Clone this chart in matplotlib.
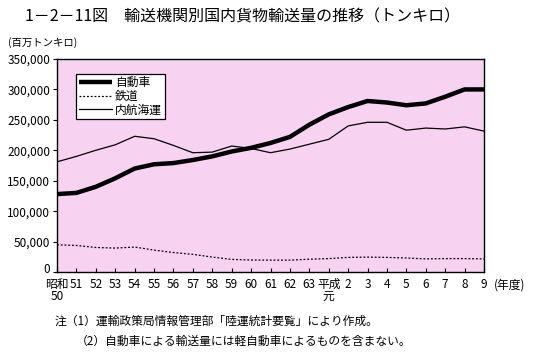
import matplotlib
matplotlib.use("Agg")
import matplotlib.pyplot as plt
import matplotlib.transforms as mtransforms

plt.rcParams['font.family'] = ['Noto Sans CJK JP', 'DejaVu Sans']

years = ["昭和\n50", "51", "52", "53", "54", "55", "56", "57", "58", "59", "60",
         "61", "62", "63", "平成\n元", "2", "3", "4", "5", "6", "7", "8", "9"]

truck = [128000, 130000, 140000, 154000, 170000, 177000, 179000, 184000, 190000,
         198000, 204000, 212000, 222000, 242000, 259000, 271000, 281000, 278500,
         274000, 277000, 288000, 300000, 300000]
rail = [44700, 43600, 40300, 39300, 41000, 36000, 32000, 29000, 24500, 20700,
        19700, 19500, 19500, 21000, 22000, 24000, 24500, 24000, 23000, 21500,
        22000, 22000, 21500]
coastal = [181000, 190000, 200000, 209000, 223000, 219000, 208000, 196000, 197000,
           207000, 203000, 196000, 202000, 210000, 218000, 240000, 246000, 246000,
           233000, 236500, 235000, 238500, 231500]

yticks = [0, 50000, 100000, 150000, 200000, 250000, 300000, 350000]
ytick_labels = ["0", "50,000", "100,000", "150,000", "200,000", "250,000", "300,000", "350,000"]

fig = plt.figure(figsize=(5.43, 3.59), dpi=100)
ax = fig.add_axes([57/543, 1-272/359, (484-57)/543, (272-59)/359])
ax.set_facecolor('#f7d2f1')

x = list(range(len(years)))
ax.plot(x, truck, color='black', lw=3.2, label='自動車', solid_capstyle='butt')
ax.plot(x, rail, color='black', lw=0.9, ls=(0, (1.5, 1.5)), label='鉄道')
ax.plot(x, coastal, color='black', lw=0.9, label='内航海運')

ax.set_xlim(0, len(years)-1)
ax.set_ylim(0, 350000)
ax.set_yticks(yticks)
ax.set_yticklabels(ytick_labels, fontsize=8.5)
ax.set_xticks(x)
ax.set_xticklabels(years, fontsize=8.5, linespacing=0.95)
ax.tick_params(axis='x', direction='in', length=3, pad=4)
ax.tick_params(axis='y', direction='out', length=3, pad=2)
for s in ax.spines.values():
    s.set_linewidth(1.0)

# raise the "0" label slightly, as in the reference
zero_lbl = ax.get_yticklabels()[0]
zero_lbl.set_transform(zero_lbl.get_transform() +
                       mtransforms.ScaledTranslation(0, 4/100, fig.dpi_scale_trans))

leg = ax.legend(loc='upper left', bbox_to_anchor=(0.045, 0.93), fontsize=8.5,
                frameon=True, fancybox=False, edgecolor='black', framealpha=1,
                facecolor='white', handlelength=2.8, borderpad=0.2,
                labelspacing=0.05, handletextpad=0.3, borderaxespad=0)
leg.get_frame().set_linewidth(0.9)

fig.text(25/543, 1-17/359, "1－2－11図　輸送機関別国内貨物輸送量の推移（トンキロ）",
         fontsize=11.5, va='center', ha='left')
fig.text(8/543, 1-43/359, "(百万トンキロ)", fontsize=7.5, va='center', ha='left')
fig.text(494/543, 1-285/359, "(年度)", fontsize=8.5, va='center', ha='left')
fig.text(55/543, 1-321/359, "注（1）運輸政策局情報管理部「陸運統計要覧」により作成。",
         fontsize=8.5, va='center', ha='left')
fig.text(76/543, 1-341/359, "（2）自動車による輸送量には軽自動車によるものを含まない。",
         fontsize=8.5, va='center', ha='left')

fig.savefig("out.png", dpi=100)
